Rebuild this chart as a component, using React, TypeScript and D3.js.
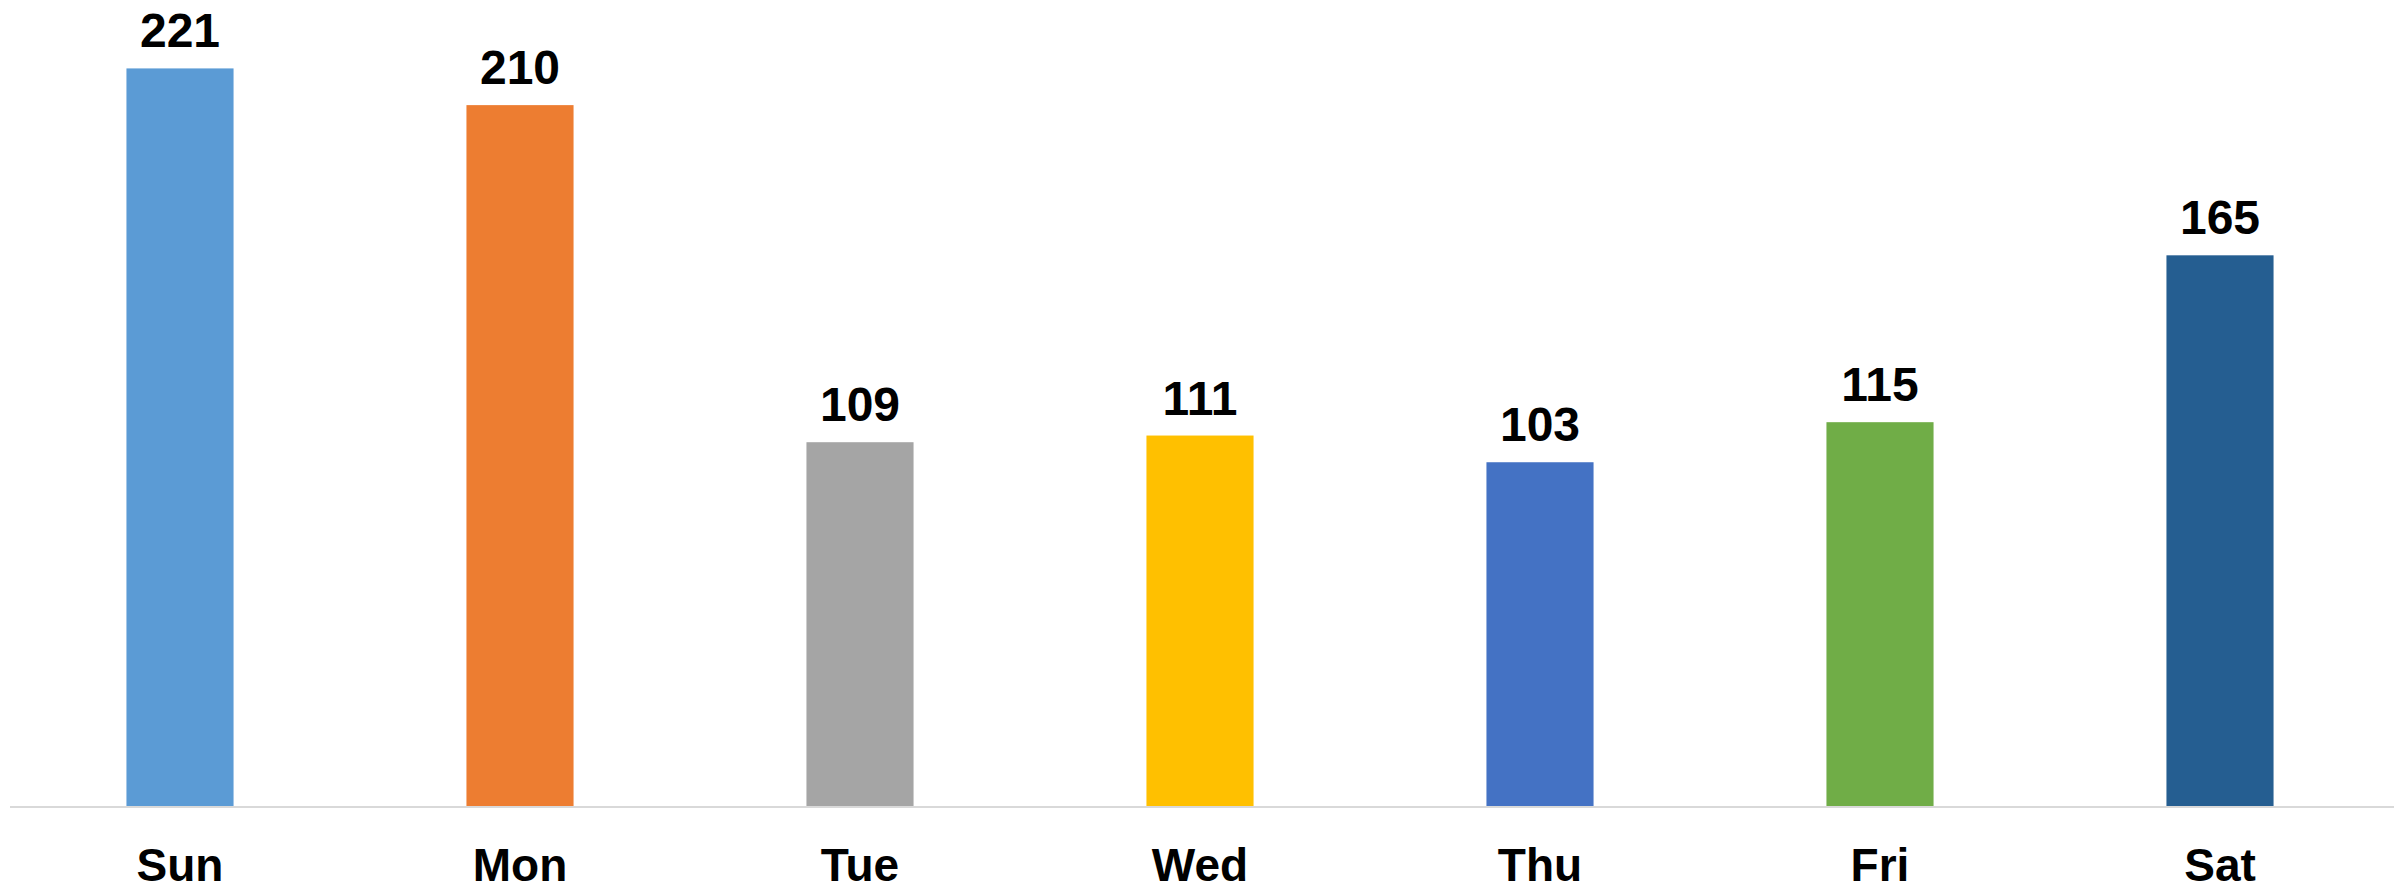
import React from "react";
import * as d3 from "d3";

const categories = ["Sun", "Mon", "Tue", "Wed", "Thu", "Fri", "Sat"];
const values = [221, 210, 109, 111, 103, 115, 165];
const colors = ["#5B9BD5", "#ED7D31", "#A5A5A5", "#FFC000", "#4472C4", "#70AD47", "#255E91"];

const W = 2394;
const H = 889;

export default function App() {
  const x = d3.scaleBand<string>().domain(categories).range([10, 2390]).paddingInner(0.685).paddingOuter(0.3425);
  const y = d3.scaleLinear().domain([0, 240]).range([806, 5]);
  return (
    <svg width={W} height={H} style={{ position: "absolute", left: 0, top: 0, background: "#fff" }}>
      <rect x={0} y={0} width={W} height={H} fill="#fff" />
      {categories.map((c, i) => (
        <rect key={c} x={x(c)} y={y(values[i])} width={x.bandwidth()} height={y(0) - y(values[i])} fill={colors[i]} />
      ))}
      <line x1={10} x2={W} y1={y(0) + 1} y2={y(0) + 1} stroke="#d9d9d9" strokeWidth={2} />
      {categories.map((c, i) => (
        <text key={c + "v"} x={(x(c) as number) + x.bandwidth() / 2} y={y(values[i]) - 21} textAnchor="middle"
          fontFamily="'Liberation Sans', Arial, sans-serif" fontWeight="bold" fontSize={48} fill="#000">
          {values[i]}
        </text>
      ))}
      {categories.map((c) => (
        <text key={c + "l"} x={(x(c) as number) + x.bandwidth() / 2} y={881} textAnchor="middle"
          fontFamily="'Liberation Sans', Arial, sans-serif" fontWeight="bold" fontSize={46} fill="#000">
          {c}
        </text>
      ))}
    </svg>
  );
}
